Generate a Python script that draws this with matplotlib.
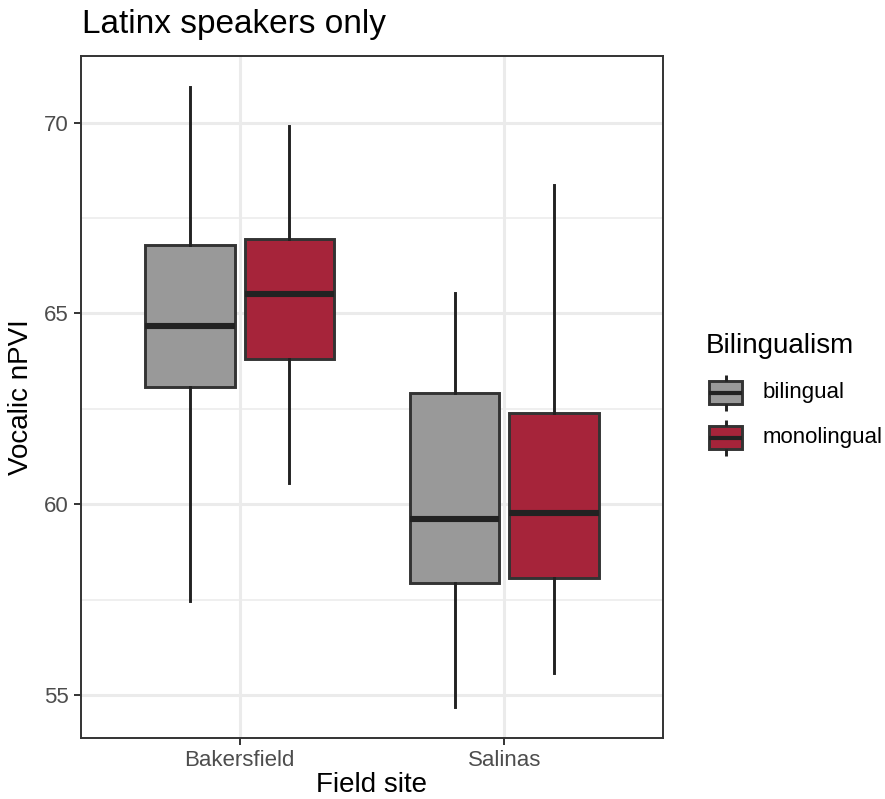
import matplotlib
matplotlib.use("Agg")
import matplotlib.pyplot as plt
from matplotlib.patches import Rectangle

plt.rcParams['font.family'] = ['Liberation Sans', 'DejaVu Sans']

# Data: five-number summaries per field site and bilingualism group
sites = ["Bakersfield", "Salinas"]
groups = ["bilingual", "monolingual"]
colors = {"bilingual": "#999999", "monolingual": "#A6243A"}

whislo = {"bilingual": [57.47, 54.69], "monolingual": [60.57, 55.57]}
q1 = {"bilingual": [63.08, 57.93], "monolingual": [63.81, 58.08]}
median = {"bilingual": [64.67, 59.61], "monolingual": [65.50, 59.76]}
q3 = {"bilingual": [66.80, 62.91], "monolingual": [66.95, 62.38]}
whishi = {"bilingual": [70.93, 65.53], "monolingual": [69.92, 68.35]}

W, H = 885, 799
fig = plt.figure(figsize=(W / 100, H / 100), dpi=100)

def fx(px):
    return px / W

def fy(py):
    return 1 - py / H

L, R, T, B = 81, 663, 56, 738
ax = fig.add_axes([fx(L), fy(B), fx(R) - fx(L), fy(T) - fy(B)])

edge = "#333333"
lw_box = 2.1
offset = 0.1875
width = 0.3375

for gi, g in enumerate(groups):
    stats = []
    for si in range(len(sites)):
        stats.append(dict(med=median[g][si], q1=q1[g][si], q3=q3[g][si],
                          whislo=whislo[g][si], whishi=whishi[g][si], fliers=[]))
    pos = [si + 1 + (offset if gi == 1 else -offset) for si in range(len(sites))]
    ax.bxp(stats, positions=pos, widths=width, patch_artist=True,
           showfliers=False, showcaps=False,
           boxprops=dict(facecolor=colors[g], edgecolor=edge, linewidth=lw_box),
           medianprops=dict(color="#222222", linewidth=4.4, solid_capstyle="butt"),
           whiskerprops=dict(color="#222222", linewidth=lw_box),
           manage_ticks=False, zorder=3)

lo = min(min(v) for v in whislo.values())
hi = max(max(v) for v in whishi.values())
pad = 0.05 * (hi - lo)
ax.set_ylim(lo - pad, hi + pad)
ax.set_xlim(0.4, len(sites) + 0.6)

ax.set_xticks([1, 2])
ax.set_xticklabels(sites)
ax.set_yticks([55, 60, 65, 70])
ax.set_yticks([57.5, 62.5, 67.5], minor=True)

ax.set_axisbelow(True)
ax.grid(which="major", axis="both", color="#EBEBEB", linewidth=2.2, zorder=0)
ax.grid(which="minor", axis="y", color="#EBEBEB", linewidth=1.1, zorder=0)

for s in ax.spines.values():
    s.set_color(edge)
    s.set_linewidth(1.4)

ax.tick_params(which="major", length=5, width=1.4, color=edge,
               labelsize=16, labelcolor="#4D4D4D", pad=4)
ax.tick_params(which="minor", length=0)

# Titles
fig.text(fx(82), fy(33), "Latinx speakers only", fontsize=24, ha="left",
         va="baseline", color="black")
fig.text(fx((L + R) / 2), fy(785), "Field site", fontsize=20, ha="center",
         va="center", color="black")
fig.text(fx(21), fy((T + B) / 2), "Vocalic nPVI", fontsize=20, rotation=90,
         ha="center", va="center", color="black")

# Legend
fig.text(fx(706), fy(346), "Bilingualism", fontsize=20, ha="left",
         va="center", color="black")
kx0, kw, ky0, kh = 703, 45, 370, 45
lax = fig.add_axes([fx(kx0), fy(ky0 + 2 * kh), fx(kx0 + kw) - fx(kx0),
                    fy(ky0) - fy(ky0 + 2 * kh)])
lax.set_xlim(0, 1)
lax.set_ylim(0, 2)
lax.axis("off")
for gi, g in enumerate(groups):
    base = 1 - gi  # top row first
    lax.plot([0.5, 0.5], [base + 0.1, base + 0.25], color="#222222", lw=lw_box,
             solid_capstyle="butt")
    lax.plot([0.5, 0.5], [base + 0.75, base + 0.9], color="#222222", lw=lw_box,
             solid_capstyle="butt")
    lax.add_patch(Rectangle((0.125, base + 0.25), 0.75, 0.5, facecolor=colors[g],
                            edgecolor=edge, linewidth=lw_box))
    lax.plot([0.125, 0.875], [base + 0.5, base + 0.5], color="#222222", lw=3,
             solid_capstyle="butt")
    fig.text(fx(763), fy(ky0 + kh * gi + kh / 2), g, fontsize=16, ha="left",
             va="center", color="black")

fig.savefig("out.png", dpi=100)
